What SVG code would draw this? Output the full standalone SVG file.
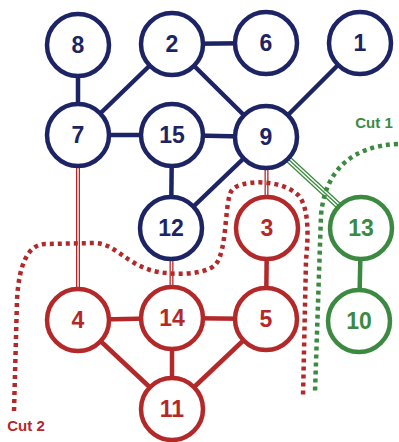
<svg xmlns="http://www.w3.org/2000/svg" width="399" height="442" viewBox="0 0 399 442">
<style>
.nb circle{fill:#fff;stroke:#1d2465;stroke-width:4.5}
.nr circle{fill:#fff;stroke:#b3292a;stroke-width:4.5}
.ng circle{fill:#fff;stroke:#3c8a41;stroke-width:4.5}
text{font-family:"Liberation Sans",Arial,sans-serif;font-weight:bold;text-anchor:middle}
.nb text{fill:#1d2465;font-size:23px}
.nr text{fill:#b3292a;font-size:23px}
.ng text{fill:#3c8a41;font-size:23px}
.eb{stroke:#1d2465;stroke-width:4.5}
.er{stroke:#b3292a;stroke-width:4.5}
.eg{stroke:#3c8a41;stroke-width:4.5}
.dr{stroke:#b3292a;stroke-width:4}
.dw{stroke:#fff;stroke-width:1.4}
.cut{fill:none;stroke-width:4.5;stroke-dasharray:4 4}
</style>
<rect width="399" height="442" fill="#fff"/>
<g id="connectors">
<line class="eb" x1="78" y1="45" x2="78" y2="135"/>
<line class="eb" x1="78" y1="135" x2="172" y2="44"/>
<line class="eb" x1="172" y1="44" x2="266" y2="43"/>
<line class="eb" x1="172" y1="44" x2="266" y2="137"/>
<line class="eb" x1="78" y1="135" x2="172" y2="135"/>
<line class="eb" x1="172" y1="135" x2="266" y2="137"/>
<line class="eb" x1="172" y1="135" x2="171" y2="228"/>
<line class="eb" x1="171" y1="228" x2="266" y2="137"/>
<line class="eb" x1="266" y1="137" x2="360" y2="43"/>
<line class="er" x1="267" y1="228" x2="266" y2="319"/>
<line class="er" x1="78" y1="320" x2="172" y2="318"/>
<line class="er" x1="172" y1="318" x2="266" y2="319"/>
<line class="er" x1="172" y1="318" x2="172" y2="408"/>
<line class="er" x1="78" y1="320" x2="172" y2="408"/>
<line class="er" x1="266" y1="319" x2="172" y2="408"/>
<line class="eg" x1="361" y1="228" x2="359" y2="321"/>
<line class="dr" x1="78" y1="165" x2="78" y2="290"/>
<line class="dw" x1="78" y1="165" x2="78" y2="290"/>
<line class="dr" x1="171.5" y1="258" x2="171.5" y2="288"/>
<line class="dw" x1="171.5" y1="258" x2="171.5" y2="288"/>
<line class="dr" x1="266.5" y1="167" x2="266.5" y2="198"/>
<line class="dw" x1="266.5" y1="167" x2="266.5" y2="198"/>
<line stroke="#3c8a41" stroke-width="7" x1="287" y1="158" x2="340" y2="207"/>
<line stroke="#fff" stroke-width="4.4" x1="287" y1="158" x2="340" y2="207"/>
<line stroke="#3c8a41" stroke-width="1.3" x1="287" y1="158" x2="340" y2="207"/>
</g>
<g id="node-8" class="nb"><circle cx="78" cy="45" r="31"/><text x="78" y="53">8</text></g>
<g id="node-2" class="nb"><circle cx="172" cy="44" r="31"/><text x="172" y="52">2</text></g>
<g id="node-6" class="nb"><circle cx="266" cy="43" r="31"/><text x="266" y="51">6</text></g>
<g id="node-1" class="nb"><circle cx="360" cy="43" r="31"/><text x="360" y="51">1</text></g>
<g id="node-7" class="nb"><circle cx="78" cy="135" r="31"/><text x="78" y="143">7</text></g>
<g id="node-15" class="nb"><circle cx="172" cy="135" r="31"/><text x="172" y="143">15</text></g>
<g id="node-9" class="nb"><circle cx="266" cy="137" r="31"/><text x="266" y="145">9</text></g>
<g id="node-12" class="nb"><circle cx="171" cy="228" r="31"/><text x="171" y="236">12</text></g>
<g id="node-3" class="nr"><circle cx="267" cy="228" r="31"/><text x="267" y="236">3</text></g>
<g id="node-13" class="ng"><circle cx="361" cy="228" r="31"/><text x="361" y="236">13</text></g>
<g id="node-4" class="nr"><circle cx="78" cy="320" r="31"/><text x="78" y="328">4</text></g>
<g id="node-14" class="nr"><circle cx="172" cy="318" r="31"/><text x="172" y="326">14</text></g>
<g id="node-5" class="nr"><circle cx="266" cy="319" r="31"/><text x="266" y="327">5</text></g>
<g id="node-10" class="ng"><circle cx="359" cy="321" r="31"/><text x="359" y="329">10</text></g>
<g id="node-11" class="nr"><circle cx="172" cy="409" r="31"/><text x="172" y="417">11</text></g>
<g id="cuts">
<path class="cut" stroke="#3c8a41" d="M 398 144 C 350 146 325 172 321 215 L 315 392"/>
<path class="cut" stroke="#b3292a" d="M 14 411 L 17 300 Q 20 245 45 244 L 95 243 C 115 244 125 262 150 270 C 170 276 205 275 215 265 C 228 252 224 200 232 190 C 240 180 280 178 298 195 C 310 208 308 240 306 260 L 303 397"/>
<text x="374" y="128" fill="#3c8a41" font-size="15">Cut 1</text>
<text x="26" y="431" fill="#b3292a" font-size="15">Cut 2</text>
</g>
</svg>
